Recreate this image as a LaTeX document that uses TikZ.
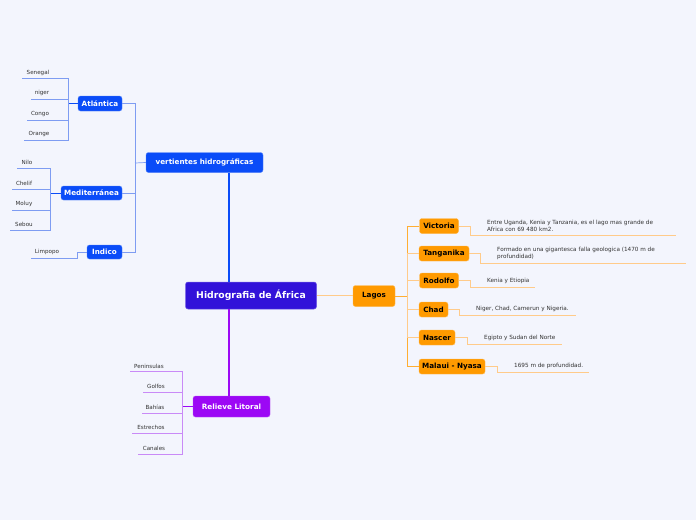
\documentclass[tikz,border=0pt]{standalone}
\usepackage{fontspec}
\setmainfont{DejaVu Sans}
\definecolor{bgc}{HTML}{F3F5FD}
\definecolor{cen}{HTML}{3212D9}
\definecolor{blu}{HTML}{0A4CF8}
\definecolor{blul}{HTML}{7E9CF2}
\definecolor{org}{HTML}{FF9A00}
\definecolor{orgl}{HTML}{FFCB8A}
\definecolor{pur}{HTML}{9C08F5}
\definecolor{purl}{HTML}{C98AF7}
\definecolor{txt}{HTML}{333333}
\tikzset{
  box/.style={rounded corners=2.5pt, inner sep=0pt, font=\bfseries},
  cenbox/.style={box, fill=cen, draw=cen!70!white, line width=0.5pt, text=white, font=\bfseries\fontsize{9.3}{10}\selectfont},
  bbox/.style={box, fill=blu, draw=blu!70!white, line width=0.4pt, text=white, font=\bfseries\fontsize{7.2}{8}\selectfont},
  obox/.style={box, fill=org, draw=org!70!white, line width=0.4pt, text=black, font=\bfseries\fontsize{7.2}{8}\selectfont},
  pbox/.style={box, fill=pur, draw=pur!70!white, line width=0.4pt, text=white, font=\bfseries\fontsize{7.3}{8}\selectfont},
  leaf/.style={inner sep=0pt, text=txt, font=\fontsize{5.6}{6}\selectfont},
  note/.style={inner sep=0pt, text=txt, anchor=west, align=left, font=\fontsize{5.7}{6.6}\selectfont},
  bmain/.style={draw=blu, line width=1.3pt},
  bline/.style={draw=blul, line width=0.7pt},
  bdark/.style={draw=blu, line width=0.8pt},
  omain/.style={draw=orgl, line width=0.8pt},
  oline/.style={draw=orgl, line width=0.7pt},
  overt/.style={draw=org!80!white, line width=0.8pt},
  pmain/.style={draw=pur, line width=1.3pt},
  pline/.style={draw=purl, line width=0.7pt},
}
\begin{document}
\begin{tikzpicture}[x=1pt,y=-1pt]
\fill[bgc] (0,0) rectangle (696,520);
\useasboundingbox (0,0) rectangle (696,520);

% main nodes
\node[cenbox, minimum width=131pt, minimum height=27pt] (cen) at (251,295.5) {Hidrografia de África};
\node[bbox, minimum width=117pt, minimum height=20pt] (vert) at (204.5,162.5) {vertientes hidrográficas};
\node[bbox, minimum width=44pt, minimum height=15pt] (atl) at (100,103.5) {Atlántica};
\node[bbox, minimum width=61pt, minimum height=14pt] (med) at (91.5,193) {Mediterránea};
\node[bbox, minimum width=35pt, minimum height=14pt] (ind) at (104.5,252) {Indico};
\node[obox, minimum width=42pt, minimum height=21pt] (lag) at (374,296) {Lagos};
\node[pbox, minimum width=77pt, minimum height=21pt] (rel) at (231.5,406.5) {Relieve Litoral};

% main connectors
\draw[bmain] (cen.north -| 229,0) -- (vert.south -| 229,0);
\draw[pmain] (cen.south -| 229,0) -- (rel.north -| 229,0);
\draw[omain] (cen.east) -- (cen.east -| lag.west);

% vertientes
\coordinate (vJ) at (135,163);
\draw[bline] (vert.west) -- (vJ);
\draw[bline] (vJ) |- (atl.east);
\draw[bline] (vJ) |- (med.east);
\draw[bline] (vJ) |- (ind.east);

% Atlantica leaves
\coordinate (aJ) at (68,103.5);
\draw[bdark] (atl.west) -- (aJ);
\node[leaf] (sen) at (38,73) {Senegal};
\node[leaf] (nig) at (42,93) {niger};
\node[leaf] (con) at (40,114) {Congo};
\node[leaf] (ora) at (39,134) {Orange};
\coordinate (senU) at (22,78);
\coordinate (nigU) at (31,99);
\coordinate (conU) at (27,120);
\coordinate (oraU) at (24,140);
\draw[bline] (aJ) |- (senU);
\draw[bline] (aJ) |- (nigU);
\draw[bline] (aJ) |- (conU);
\draw[bline] (aJ) |- (oraU);

% Mediterranea leaves
\coordinate (mJ) at (50,193);
\draw[bdark] (med.west) -- (mJ);
\node[leaf] (nil) at (27,162) {Nilo};
\node[leaf] (che) at (24,183) {Chelif};
\node[leaf] (mol) at (24,204) {Moluy};
\node[leaf] (seb) at (24,224) {Sebou};
\coordinate (nilU) at (17,168);
\coordinate (cheU) at (12,189);
\coordinate (molU) at (12,210);
\coordinate (sebU) at (10,230);
\draw[bline] (mJ) |- (nilU);
\draw[bline] (mJ) |- (cheU);
\draw[bline] (mJ) |- (molU);
\draw[bline] (mJ) |- (sebU);

% Indico leaf
\node[leaf] (lim) at (47,252) {Limpopo};
\coordinate (iJ) at (77,258);
\coordinate (limU) at (31,258);
\draw[bline] (ind.west) -| (iJ) -- (limU);

% Lagos
\node[obox, minimum width=39pt, minimum height=15pt] (vic) at (439,226) {Victoria};
\node[obox, minimum width=50pt, minimum height=15pt] (tan) at (444,253.5) {Tanganika};
\node[obox, minimum width=39pt, minimum height=15pt] (rod) at (439,280.5) {Rodolfo};
\node[obox, minimum width=29pt, minimum height=15pt] (cha) at (433.5,309.5) {Chad};
\node[obox, minimum width=36pt, minimum height=15pt] (nas) at (437,337.5) {Nascer};
\node[obox, minimum width=66pt, minimum height=15pt] (mal) at (452,366.5) {Malaui - Nyasa};

\coordinate (lJ) at (407,296);
\draw[overt] (lag.east) -- (lJ);
\draw[overt] (lJ) |- (vic.west);
\draw[overt] (lJ) |- (mal.west);
\draw[oline] (lJ) |- (tan.west);
\draw[oline] (lJ) |- (rod.west);
\draw[oline] (lJ) |- (cha.west);
\draw[oline] (lJ) |- (nas.west);

% lake notes
\node[note] (vicN) at (487,226) {Entre Uganda, Kenia y Tanzania, es el lago mas grande de\\Africa con 69 480 km2.};
\node[note] (tanN) at (497,253.5) {Formado en una gigantesca falla geologica (1470 m de\\profundidad)};
\node[note] (rodN) at (487,281) {Kenia y Etiopia};
\node[note] (chaN) at (476,309) {Niger, Chad, Camerun y Nigeria.};
\node[note] (nasN) at (484,338) {Egipto y Sudan del Norte};
\node[note] (malN) at (514,366) {1695 m de profundidad.};

\coordinate (vicJ) at (470,235);  \coordinate (vicE) at (676,235);
\coordinate (tanJ) at (480,263);  \coordinate (tanE) at (686,263);
\coordinate (rodJ) at (470,287);  \coordinate (rodE) at (535,287);
\coordinate (chaJ) at (459,315);  \coordinate (chaE) at (576,315);
\coordinate (nasJ) at (467,344);  \coordinate (nasE) at (562,344);
\coordinate (malJ) at (497,372);  \coordinate (malE) at (589,372);
\draw[oline] (vic.east) -| (vicJ) -- (vicE);
\draw[oline] (tan.east) -| (tanJ) -- (tanE);
\draw[oline] (rod.east) -| (rodJ) -- (rodE);
\draw[oline] (cha.east) -| (chaJ) -- (chaE);
\draw[oline] (nas.east) -| (nasJ) -- (nasE);
\draw[oline] (mal.east) -| (malJ) -- (malE);

% Relieve leaves
\coordinate (rJ) at (182,406.5);
\draw[draw=pur, line width=0.8pt] (rel.west) -- (rJ);
\node[leaf] (pen) at (149,366) {Peninsulas};
\node[leaf] (gol) at (156,386) {Golfos};
\node[leaf] (bah) at (155,407) {Bahías};
\node[leaf] (est) at (151,427) {Estrechos};
\node[leaf] (can) at (154,448) {Canales};
\coordinate (penU) at (130,371);
\coordinate (golU) at (143,392);
\coordinate (bahU) at (142,413);
\coordinate (estU) at (132,433);
\coordinate (canU) at (138,454);
\draw[pline] (rJ) |- (penU);
\draw[pline] (rJ) |- (golU);
\draw[pline] (rJ) |- (bahU);
\draw[pline] (rJ) |- (estU);
\draw[pline] (rJ) |- (canU);
\end{tikzpicture}
\end{document}
